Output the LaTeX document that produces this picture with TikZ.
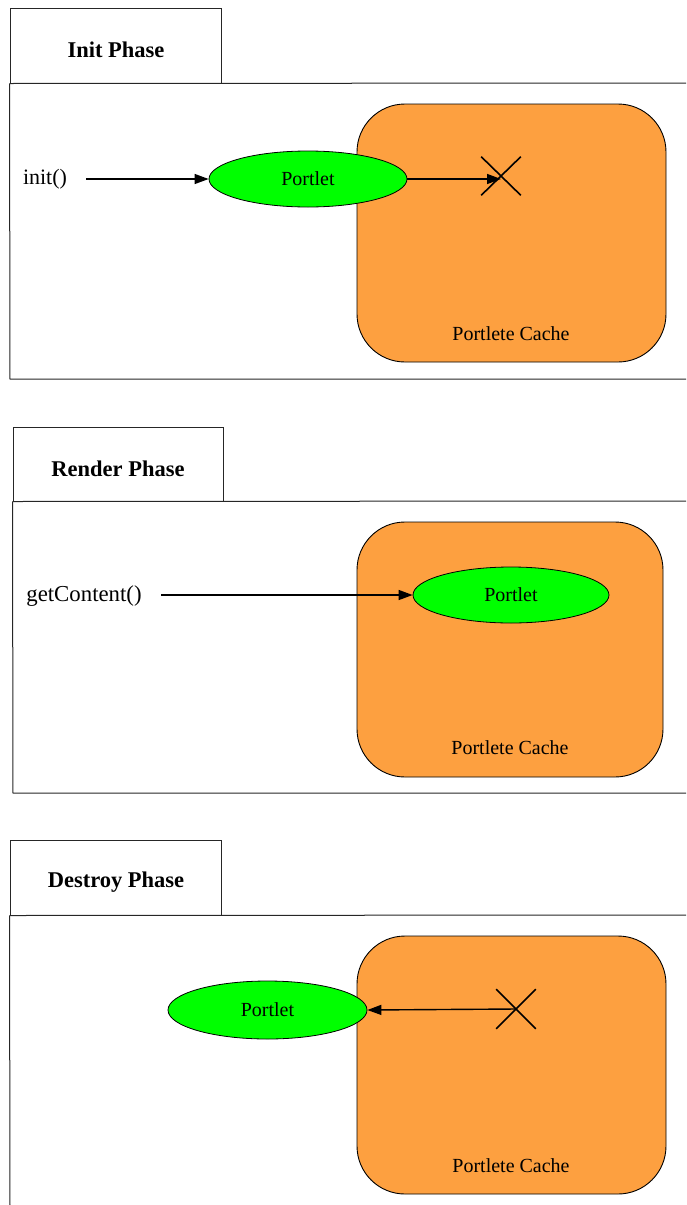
\documentclass[tikz,border=0pt]{standalone}
\usepackage{fontspec}
\setmainfont{Liberation Serif}
\usetikzlibrary{arrows.meta,shapes.misc,shapes.geometric}
\definecolor{cacheorange}{RGB}{253,160,64}
\definecolor{portletgreen}{RGB}{0,255,0}
\tikzset{
  frameline/.style={draw=black!85, line width=1pt},
  phasetab/.style={frameline, rectangle, inner sep=0pt},
  phasetitle/.style={font=\fontsize{22.5}{26}\selectfont\bfseries},
  cachebox/.style={draw=black, line width=0.9pt, fill=cacheorange, rectangle, rounded corners=48pt, inner sep=0pt},
  cachelabel/.style={font=\fontsize{20}{24}\selectfont},
  portlet/.style={draw=black, line width=0.8pt, fill=portletgreen, ellipse, inner sep=0pt, font=\fontsize{20}{24}\selectfont},
  killmark/.style={draw=black, line width=1.6pt, cross out, inner sep=0pt},
  calllabel/.style={font=\fontsize{22}{26}\selectfont},
  callarrow/.style={line width=1.4pt, -{Triangle[length=14pt,width=10pt]}}
}
\begin{document}
\begin{tikzpicture}[x=1pt,y=-1pt]
\useasboundingbox (0,0) rectangle (686,1205);

% ---------------- Init phase ----------------
\node[phasetab, minimum width=211pt, minimum height=75pt] (inittab) at (115.5,45.5) {};
\node[phasetitle] (inittitle) at (116,50) {Init Phase};
\draw[frameline] (inittab.south west) -- (686,83);
\draw[frameline] (inittab.south west) -- (10,379) -- (686,379);
\node[cachebox, minimum width=309pt, minimum height=258pt] (initcache) at (511.5,233) {};
\node[cachelabel] (initcachelbl) at (511,334) {Portlete Cache};
\node[portlet, minimum width=198pt, minimum height=56pt] (initportlet) at (308,179) {Portlet};
\node[killmark, minimum width=38pt, minimum height=37pt] (initkill) at (501,176) {};
\node[calllabel] (initcall) at (45,179) {init()};
\coordinate (initstart) at (86,179);
\draw[callarrow] (initstart) -- (initportlet.west);
\draw[callarrow] (initportlet.east) -- ([yshift=-3pt]initkill.center);

% ---------------- Render phase ----------------
\node[phasetab, minimum width=210pt, minimum height=74pt] (rendertab) at (118,464) {};
\node[phasetitle] (rendertitle) at (118,468.5) {Render Phase};
\draw[frameline] (rendertab.south west) -- (686,501);
\draw[frameline] (rendertab.south west) -- (13,793) -- (686,793);
\node[cachebox, minimum width=306pt, minimum height=255pt] (rendercache) at (510,649.5) {};
\node[cachelabel] (rendercachelbl) at (510,748) {Portlete Cache};
\node[portlet, minimum width=196pt, minimum height=56pt] (renderportlet) at (511,595) {Portlet};
\node[calllabel, font=\fontsize{22.8}{26}\selectfont] (rendercall) at (84,596) {getContent()};
\coordinate (renderstart) at (161,595);
\draw[callarrow] (renderstart) -- (renderportlet.west);

% ---------------- Destroy phase ----------------
\node[phasetab, minimum width=211pt, minimum height=75pt] (destroytab) at (115.5,877.5) {};
\node[phasetitle] (destroytitle) at (116,882) {Destroy Phase};
\draw[frameline] (destroytab.south west) -- (686,915);
\draw[frameline] (destroytab.south west) -- (10,1205);
\node[cachebox, minimum width=309pt, minimum height=258pt] (destroycache) at (511.5,1065) {};
\node[cachelabel] (destroycachelbl) at (511,1166) {Portlete Cache};
\node[portlet, minimum width=199pt, minimum height=58pt] (destroyportlet) at (267.5,1010) {Portlet};
\node[killmark, minimum width=38pt, minimum height=38pt] (destroykill) at (516,1009) {};
\draw[callarrow] (destroykill.center) -- (destroyportlet.east);
\end{tikzpicture}
\end{document}
